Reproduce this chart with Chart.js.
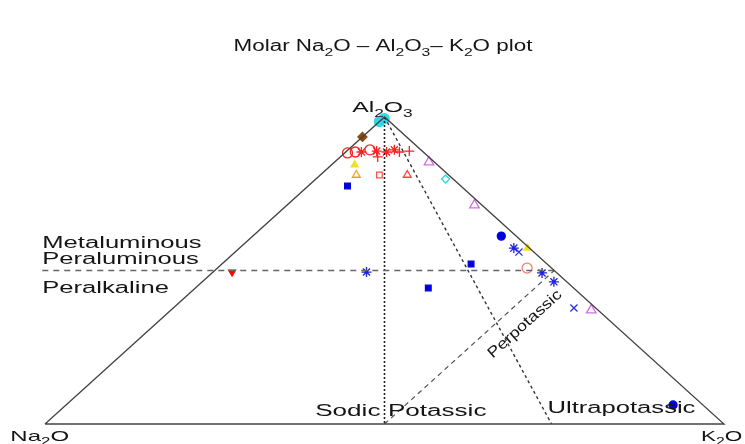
<!DOCTYPE html>
<html>
<head>
<meta charset="utf-8">
<script src="https://cdn.jsdelivr.net/npm/chart.js@4.4.0/dist/chart.umd.min.js"></script>
<style>html,body{margin:0;padding:0;background:#fff}</style>
</head>
<body>
<canvas id="c" width="745" height="444"></canvas>
<script>
// samples as molar % [Na2O, Al2O3, K2O]
const blueSquares = [[16.7, 77.5, 5.8], [11.2, 52.1, 36.7], [21.4, 44.3, 34.3]];
const blueDots = [[2.2, 61.2, 36.6], [4.4, 6.2, 89.4]];
const blueStars = [[2.3, 57.3, 40.4], [27.9, 49.5, 22.6], [2.2, 49.2, 48.6], [1.9, 46.3, 51.8]];
const blueCrosses = [[2.2, 56.0, 41.8], [3.2, 37.8, 59.0]];
const redCircles = [[11.3, 88.3, 0.4], [10.0, 88.6, 1.4], [7.5, 89.3, 3.2]];
const redStars = [[9.1, 88.6, 2.3], [6.7, 88.9, 4.4], [5.4, 88.6, 6.0], [3.9, 89.3, 6.8]];
const redPlus = [[7.5, 87.0, 5.5], [1.9, 88.9, 9.2], [3.5, 88.6, 7.9]];
const redTriangles = [[6.1, 81.1, 12.8]];
const redSquares = [[10.2, 81.1, 8.7]];
const redDown = [[47.7, 49.5, 2.8]];
const orangeTriangles = [[13.6, 81.1, 5.3]];
const yellowPts = [[12.2, 84.4, 3.4], [0.3, 57.3, 42.4]];
const magentaTriangles = [[0.8, 85.3, 13.9], [1.1, 71.3, 27.6], [1.0, 37.1, 61.9]];
const salmonCircles = [[3.6, 50.8, 45.6]];
const cyanApex = [[0.3, 99.5, 0.2], [1.5, 98.5, 0.0]];
const cyanPts = [[1.1, 79.8, 19.1]];
const brownPts = [[6.5, 93.5, 0.0]];

// field boundaries, ternary end points
const triangleEdge = [[100, 0, 0], [0, 100, 0], [0, 0, 100], [100, 0, 0]];
const peralkLine = [[75.4, 50, -25.4], [0, 50, 50]];
const sodicLine = [[0, 100, 0], [50, 0, 50]];
const ultraLine = [[0, 100, 0], [25.4, 0, 74.6]];
const perpotLine = [[50, 0, 50], [0, 50, 50]];

function tern(p) {
  const s = p[0] + p[1] + p[2];
  const a = p[1] / s, k = p[2] / s;
  return { x: k + a / 2, y: a };
}

function pts(name, arr, style, color, filled, r, extra) {
  return Object.assign({
    label: name,
    data: arr.map(tern),
    pointStyle: style,
    pointRadius: r || 4,
    borderColor: color,
    backgroundColor: filled ? color : 'rgba(0,0,0,0)',
    borderWidth: 1.3,
    showLine: false,
    clip: false
  }, extra || {});
}

function line(arr, dash, color, w) {
  return {
    data: arr.map(tern),
    showLine: true,
    borderColor: color,
    borderWidth: w || 1,
    borderDash: dash,
    pointRadius: 0,
    fill: false,
    tension: 0,
    clip: false
  };
}

const FONT = '"Liberation Sans", Arial, sans-serif';

function drawRich(ctx, txt, x, y, size, sx, align, rot) {
  const parts = txt.split(/_(\d)/);
  ctx.save();
  ctx.translate(x, y);
  if (rot) ctx.rotate(rot);
  ctx.scale(sx, 1);
  let w = 0;
  parts.forEach((p, i) => {
    ctx.font = (i % 2 ? size * 0.7 : size) + 'px ' + FONT;
    w += ctx.measureText(p).width;
  });
  let cx = align === 'right' ? -w : align === 'center' ? -w / 2 : 0;
  ctx.fillStyle = '#151515';
  ctx.textBaseline = 'alphabetic';
  ctx.textAlign = 'left';
  parts.forEach((p, i) => {
    const sub = i % 2 === 1;
    ctx.font = (sub ? size * 0.7 : size) + 'px ' + FONT;
    ctx.fillText(p, cx, sub ? size * 0.3 : 0);
    cx += ctx.measureText(p).width;
  });
  ctx.restore();
}

const labels = [
  { t: 'Al_2O_3', x: 0.497, y: 1.016, a: 'center', s: 15, k: 1.65 },
  { t: 'Na_2O', x: -0.051, y: -0.055, a: 'left', s: 15, k: 1.6 },
  { t: 'K_2O', x: 1.027, y: -0.055, a: 'right', s: 15, k: 1.5 },
  { t: 'Metaluminous', x: -0.004, y: 0.573, a: 'left', s: 16, k: 1.6 },
  { t: 'Peraluminous', x: -0.004, y: 0.521, a: 'left', s: 16, k: 1.6 },
  { t: 'Peralkaline', x: -0.004, y: 0.427, a: 'left', s: 16, k: 1.6 },
  { t: 'Sodic', x: 0.494, y: 0.026, a: 'right', s: 16, k: 1.63 },
  { t: 'Potassic', x: 0.505, y: 0.026, a: 'left', s: 16, k: 1.63 },
  { t: 'Ultrapotassic', x: 0.740, y: 0.036, a: 'left', s: 16, k: 1.6 },
  { t: 'Perpotassic', x: 0.711, y: 0.315, a: 'center', s: 15, k: 1.2, r: -42 }
];

const textPlugin = {
  id: 'ternText',
  afterDraw(chart) {
    const ctx = chart.ctx;
    const xs = chart.scales.x, ys = chart.scales.y;
    drawRich(ctx, 'Molar Na_2O \u2013 Al_2O_3\u2013 K_2O plot', 383, 51, 16, 1.4, 'center');
    labels.forEach(l => {
      drawRich(ctx, l.t, xs.getPixelForValue(l.x), ys.getPixelForValue(l.y), l.s, l.k, l.a,
        l.r ? l.r * Math.PI / 180 : 0);
    });
  }
};

new Chart(document.getElementById('c'), {
  type: 'scatter',
  data: {
    datasets: [
      line(triangleEdge, [], '#444', 1.3),
      line(peralkLine, [6, 5], '#666', 1.3),
      line(sodicLine, [2, 2], '#222', 1.6),
      line(ultraLine, [3, 3], '#333', 1.4),
      line(perpotLine, [5, 4], '#555', 1.2),
      pts('cyanA', cyanApex, 'circle', '#30d8e8', true, 5),
      pts('cyan', cyanPts, 'rectRot', '#30d8e8', false, 4),
      pts('brown', brownPts, 'rectRot', '#8b4a10', true, 4.5),
      pts('redC', redCircles, 'circle', '#ff2020', false, 5),
      pts('redS', redStars, 'star', '#ff2020', false, 5),
      pts('redP', redPlus, 'cross', '#ff2020', false, 5),
      pts('redT', redTriangles, 'triangle', '#ff4040', false, 4.5),
      pts('redQ', redSquares, 'rect', '#ff5050', false, 4),
      pts('redD', redDown, 'triangle', '#ff0000', true, 4, { rotation: 180 }),
      pts('orange', orangeTriangles, 'triangle', '#ff9a20', false, 4.5),
      pts('yellow', yellowPts, 'triangle', '#f0e020', true, 4),
      pts('magenta', magentaTriangles, 'triangle', '#d070e0', false, 5.5),
      pts('salmon', salmonCircles, 'circle', '#f08080', false, 5),
      pts('blueQ', blueSquares, 'rect', '#0000dd', true, 4),
      pts('blueO', blueDots, 'circle', '#0000dd', true, 4),
      pts('blueS', blueStars, 'star', '#2020dd', false, 5),
      pts('blueX', blueCrosses, 'crossRot', '#3030dd', false, 5)
    ]
  },
  options: {
    responsive: false,
    devicePixelRatio: 1,
    animation: false,
    layout: { padding: { left: 45, right: 21, top: 117, bottom: 20 } },
    scales: {
      x: { type: 'linear', min: 0, max: 1, display: false },
      y: { type: 'linear', min: 0, max: 1, display: false }
    },
    plugins: { legend: { display: false }, tooltip: { enabled: false } }
  },
  plugins: [textPlugin]
});
</script>
</body>
</html>
